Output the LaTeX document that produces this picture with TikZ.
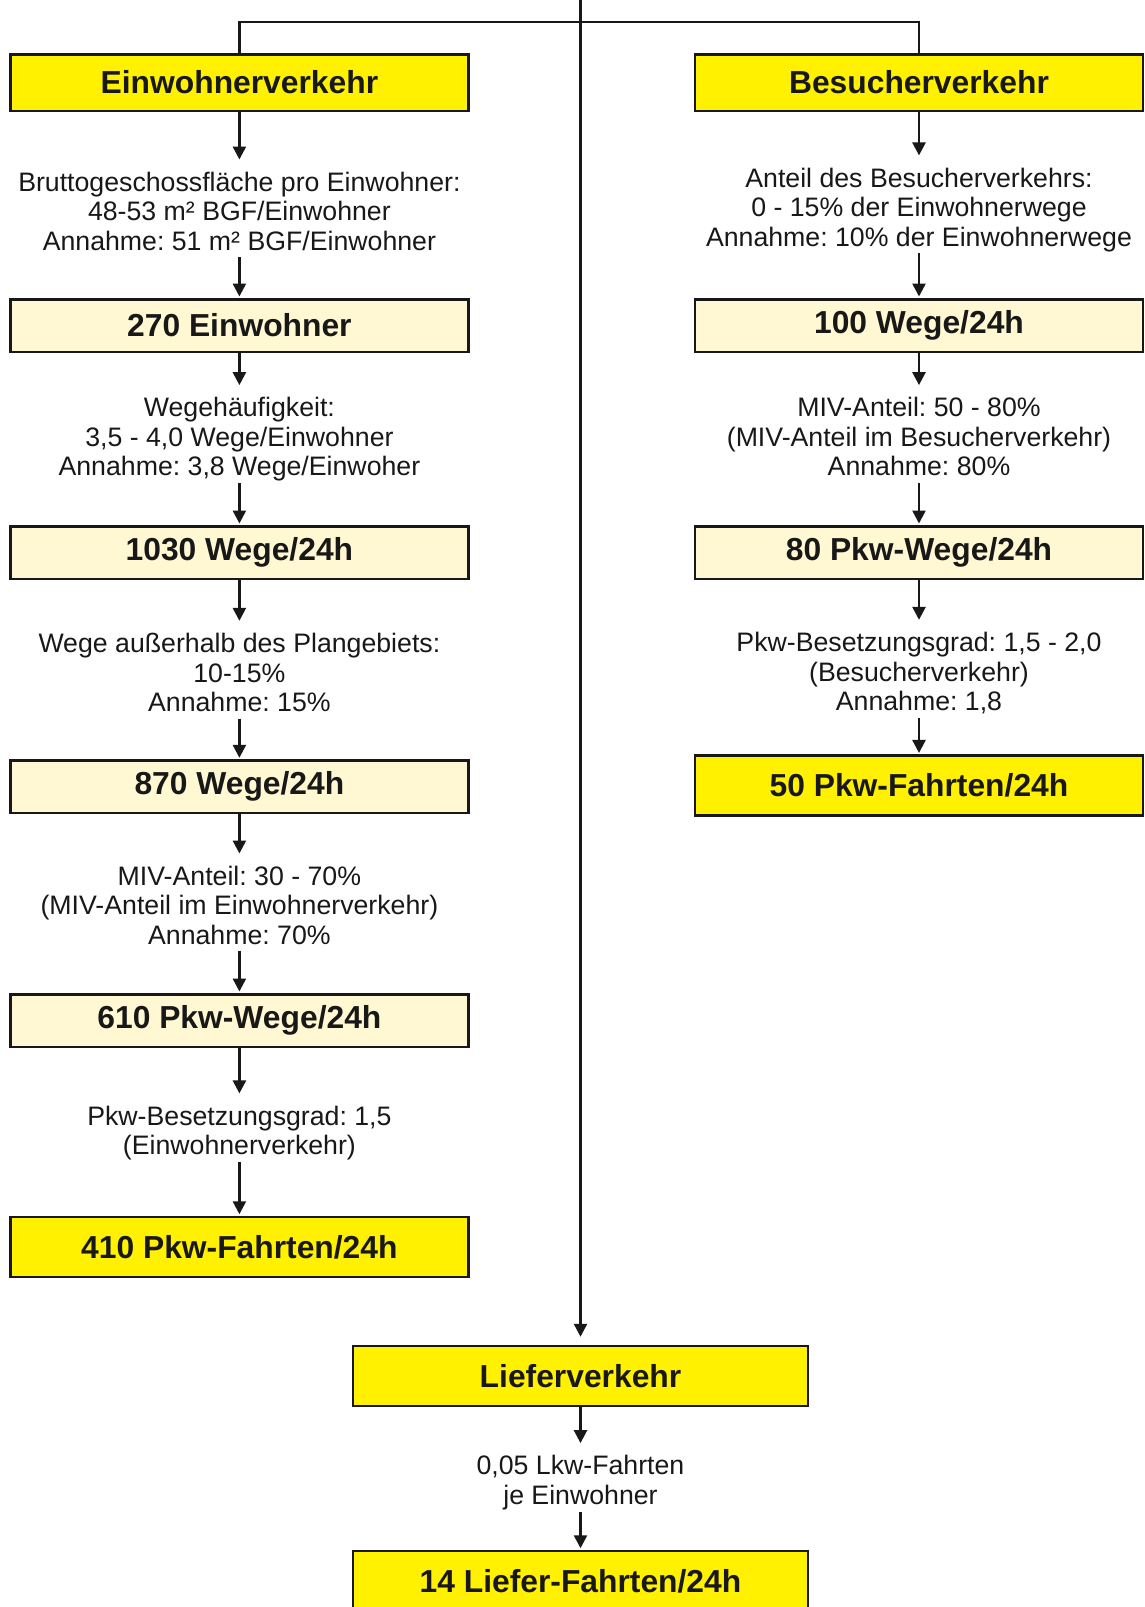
\documentclass[tikz,border=0pt]{standalone}
\usepackage{fontspec}
\setmainfont{Liberation Sans}
\usetikzlibrary{arrows.meta}
\definecolor{ybox}{RGB}{255,241,0}
\definecolor{cbox}{RGB}{255,248,210}
\definecolor{ink}{RGB}{24,24,24}
\newcommand\lab[1]{\rule{0pt}{30pt}#1\rule[-7pt]{0pt}{7pt}}
\frenchspacing
\begin{document}
\begin{tikzpicture}[x=1pt,y=-1pt,
  box/.style={draw=ink, line width=2.5pt, minimum width=458pt, inner sep=0pt,
    font=\fontsize{31.8}{34}\selectfont\bfseries, text=ink},
  ybx/.style={box, fill=ybox, minimum height=60pt},
  cbx/.style={box, fill=cbox, minimum height=52.5pt},
  lbl/.style={align=center, inner sep=0pt, font=\fontsize{26.7}{29.5}\selectfont, text=ink, anchor=north},
  arr/.style={draw=ink, line width=2.5pt, shorten >=1.5pt, -{Triangle[width=13pt,length=13pt]}},
  ln/.style={draw=ink, line width=2.5pt}]
\clip (0,0) rectangle (1145,1607);
\fill[white] (0,0) rectangle (1145,1607);
% left column
\node[ybx, minimum height=56.5pt] (e1) at (239.4,82.5) {Einwohnerverkehr};
\node[lbl] (L1) at (239.4,161) {\lab{Bruttogeschossfläche pro Einwohner:\\48-53 m² BGF/Einwohner\\Annahme: 51 m² BGF/Einwohner}};
\node[cbx] (e2) at (239.4,325.5) {270 Einwohner};
\node[lbl] (L2) at (239.4,386.6) {\lab{Wegehäufigkeit:\\3,5 - 4,0 Wege/Einwohner\\Annahme: 3,8 Wege/Einwoher}};
\node[cbx] (e3) at (239.4,552.5) {1030 Wege/24h};
\node[lbl] (L3) at (239.4,622.3) {\lab{Wege außerhalb des Plangebiets:\\10-15\%\\Annahme: 15\%}};
\node[cbx] (e4) at (239.4,786.8) {870 Wege/24h};
\node[lbl] (L4) at (239.4,855) {\lab{MIV-Anteil: 30 - 70\%\\(MIV-Anteil im Einwohnerverkehr)\\Annahme: 70\%}};
\node[cbx] (e5) at (239.4,1020.5) {610 Pkw-Wege/24h};
\node[lbl] (L5) at (239.4,1094.9) {\lab{Pkw-Besetzungsgrad: 1,5\\(Einwohnerverkehr)}};
\node[ybx] (e6) at (239.4,1247) {410 Pkw-Fahrten/24h};
% right column
\node[ybx, minimum height=56.5pt, minimum width=448pt] (b1) at (919,82.5) {Besucherverkehr};
\node[lbl] (R1) at (919,156.9) {\lab{Anteil des Besucherverkehrs:\\0 - 15\% der Einwohnerwege\\Annahme: 10\% der Einwohnerwege}};
\node[cbx, minimum width=448pt] (b2) at (919,325.5) {100 Wege/24h};
\node[lbl] (R2) at (919,386.6) {\lab{MIV-Anteil: 50 - 80\%\\(MIV-Anteil im Besucherverkehr)\\Annahme: 80\%}};
\node[cbx, minimum width=448pt] (b3) at (919,552.5) {80 Pkw-Wege/24h};
\node[lbl] (R3) at (919,621.3) {\lab{Pkw-Besetzungsgrad: 1,5 - 2,0\\(Besucherverkehr)\\Annahme: 1,8}};
\node[ybx, minimum width=448pt] (b4) at (919,785.7) {50 Pkw-Fahrten/24h};
% centre column
\node[ybx, minimum width=455pt] (l1) at (580.5,1376) {Lieferverkehr};
\node[lbl] (C1) at (580.5,1444.6) {\lab{0,05 Lkw-Fahrten\\je Einwohner}};
\node[ybx, minimum width=455pt] (l2) at (580.5,1581) {14 Liefer-Fahrten/24h};
% top connector
\coordinate (top) at (580.5,0);
\coordinate (hbar) at (0,22);
\draw[ln] (e1.north) -- (e1.north |- hbar) -- (b1.north |- hbar) -- (b1.north);
\draw[arr, shorten >=8pt] (top) -- (l1.north);
% arrows
\draw[arr] (e1) -- (L1);
\draw[arr] (L1) -- (e2);
\draw[arr] (e2) -- (L2);
\draw[arr] (L2) -- (e3);
\draw[arr] (e3) -- (L3);
\draw[arr] (L3) -- (e4);
\draw[arr] (e4) -- (L4);
\draw[arr] (L4) -- (e5);
\draw[arr] (e5) -- (L5);
\draw[arr] (L5) -- (e6);
\draw[arr] (b1) -- (R1);
\draw[arr] (R1) -- (b2);
\draw[arr] (b2) -- (R2);
\draw[arr] (R2) -- (b3);
\draw[arr] (b3) -- (R3);
\draw[arr] (R3) -- (b4);
\draw[arr] (l1) -- (C1);
\draw[arr] (C1) -- (l2);
\end{tikzpicture}
\end{document}
